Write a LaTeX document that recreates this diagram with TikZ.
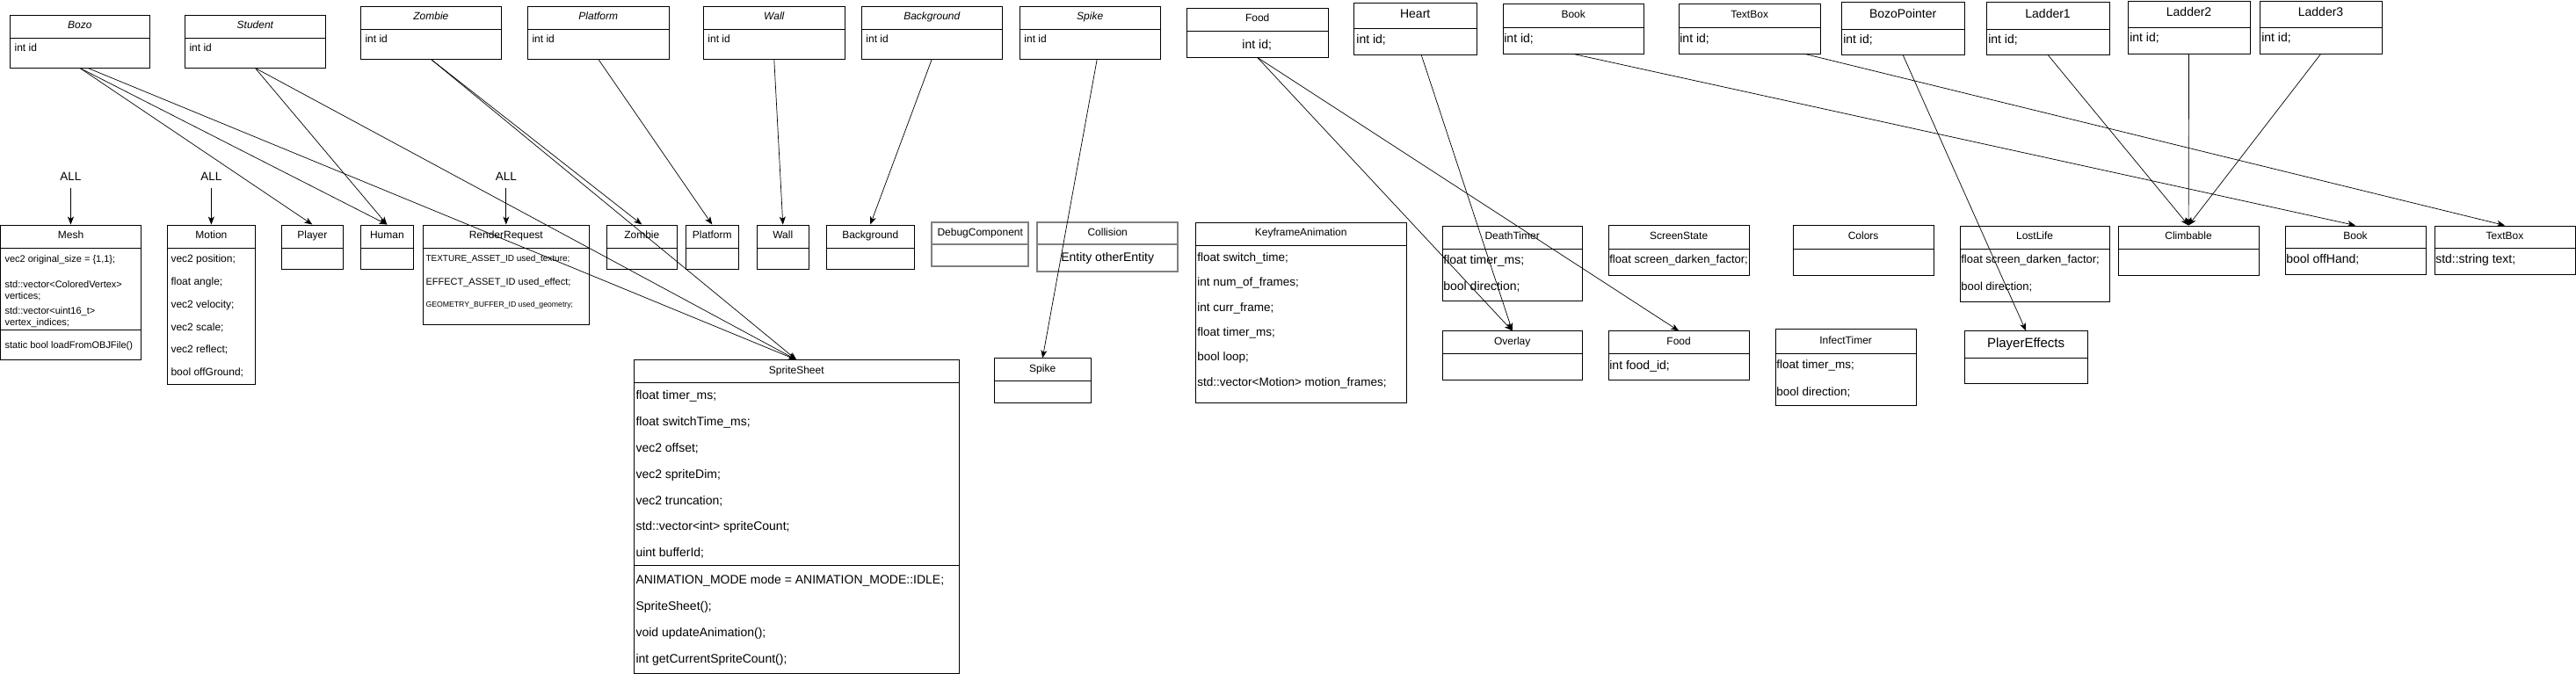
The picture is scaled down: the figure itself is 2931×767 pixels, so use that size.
\documentclass[tikz,border=0pt]{standalone}
\usepackage{fontspec}
\setmainfont{Liberation Sans}
\usetikzlibrary{arrows.meta}

\newcommand{\fs}[1]{\fontsize{#1}{#1}\selectfont}
% box with title part: [style]{name}{x1}{y1}{x2}{y2}{header line}{title}
\newcommand{\umlclass}[8][]{%
  \node[classbox,#1,minimum width={#5-#3},minimum height={#6-#4}] (#2) at ({(#3+#5)/2},{(#4+#6)/2}) {};
  \draw[classline,#1] (#2.west |- 0,#7) -- (#2.east |- 0,#7);
  \node[titletext] (#2-title) at ({(#3+#5)/2},{(#4+#7)/2}) {#8};
}

\begin{document}
\begin{tikzpicture}
[
x=1pt, y=-1pt,
classline/.style={line width=0.9pt},
classbox/.style={draw, rectangle, inner sep=0pt, classline},
greybox/.style={draw=gray, line width=1.6pt},
titletext/.style={anchor=mid, inner sep=0pt, font=\fs{12}},
attr/.style={anchor=mid west, inner sep=0pt, font=\fs{12}},
link/.style={-{Stealth[length=9pt,width=7pt,inset=2.5pt]}, line width=0.7pt}
]
\path[fill=white] (0,0) rectangle (2931,767);

% entities
\umlclass{bozoE}{11}{17}{170}{77}{43}{\itshape Bozo}
\umlclass{studentE}{210}{17}{370}{77}{43}{\itshape Student}
\umlclass{zombieE}{410}{7}{570}{67}{33}{\itshape Zombie}
\umlclass{platformE}{600}{7}{761}{67}{33}{\itshape Platform}
\umlclass{wallE}{800}{7}{961}{67}{33}{\itshape Wall}
\umlclass{backgroundE}{980}{7}{1140}{67}{33}{\itshape Background}
\umlclass{spikeE}{1160}{7}{1320}{67}{33}{\itshape Spike}
\umlclass{foodE}{1350}{9}{1511}{65}{35}{Food}
\umlclass{heartE}{1540}{3}{1680}{62}{32}{\fs{14}Heart}
\umlclass{bookE}{1710}{4}{1870}{61}{31}{Book}
\umlclass{textboxE}{1910}{4}{2071}{61}{31}{TextBox}
\umlclass{bozopointerE}{2095}{2}{2235}{62}{33}{\fs{14}BozoPointer}
\umlclass{ladderoneE}{2260}{2}{2400}{62}{33}{\fs{14}Ladder1}
\umlclass{laddertwoE}{2421}{1}{2560}{61}{31}{\fs{14}Ladder2}
\umlclass{ladderthreeE}{2571}{1}{2710}{61}{31}{\fs{14}Ladder3}

\node[attr] (bozoE-a) at (16,56) {int id};
\node[attr] (studentE-a) at (215,56) {int id};
\node[attr] (zombieE-a) at (415,46) {int id};
\node[attr] (platformE-a) at (605,46) {int id};
\node[attr] (wallE-a) at (805,46) {int id};
\node[attr] (backgroundE-a) at (985,46) {int id};
\node[attr] (spikeE-a) at (1165,46) {int id};
\node[titletext, font=\fs{14}] (foodE-a) at (1430,53) {int id;};
\node[attr, font=\fs{14}] (heartE-a) at (1543,47) {int id;};
\node[attr, font=\fs{14}] (bookE-a) at (1711,46) {int id;};
\node[attr, font=\fs{14}] (textboxE-a) at (1911,46) {int id;};
\node[attr, font=\fs{14}] (bozopointerE-a) at (2097,47) {int id;};
\node[attr, font=\fs{14}] (ladderoneE-a) at (2262,47) {int id;};
\node[attr, font=\fs{14}] (laddertwoE-a) at (2423,45) {int id;};
\node[attr, font=\fs{14}] (ladderthreeE-a) at (2573,45) {int id;};

% components
\umlclass{mesh}{0.5}{256}{160}{410}{282}{Mesh}
\draw[classline] (mesh.west |- 0,376) -- (mesh.east |- 0,376);
\node[attr, font=\fs{11}] (mesh-a1) at (5,296) {vec2 original\_size = \{1,1\};};
\node[attr, font=\fs{11}] (mesh-a2) at (5,325) {std::vector<ColoredVertex>};
\node[attr, font=\fs{11}] (mesh-a3) at (5,338) {vertices;};
\node[attr, font=\fs{11}] (mesh-a4) at (5,355) {std::vector<uint16\_t>};
\node[attr, font=\fs{11}] (mesh-a5) at (5,368) {vertex\_indices;};
\node[attr, font=\fs{11}] (mesh-m1) at (5,394) {static bool loadFromOBJFile()};

\umlclass{motion}{190}{256}{290}{438}{282}{Motion}
\node[attr] (motion-a1) at (194,296) {vec2 position;};
\node[attr] (motion-a2) at (194,322) {float angle;};
\node[attr] (motion-a3) at (194,348) {vec2 velocity;};
\node[attr] (motion-a4) at (194,374) {vec2 scale;};
\node[attr] (motion-a5) at (194,399) {vec2 reflect;};
\node[attr] (motion-a6) at (194,425) {bool offGround;};

\umlclass{player}{320}{256}{390}{306}{282}{Player}
\umlclass{human}{410}{256}{470}{306}{282}{Human}

\umlclass{renderreq}{481}{256}{670}{369}{282}{RenderRequest}
\node[attr, font=\fs{10}] (renderreq-a1) at (484,295) {TEXTURE\_ASSET\_ID used\_texture;};
\node[attr, font=\fs{11}] (renderreq-a2) at (484,322) {EFFECT\_ASSET\_ID used\_effect;};
\node[attr, font=\fs{8.7}] (renderreq-a3) at (484,347) {GEOMETRY\_BUFFER\_ID used\_geometry;};

\umlclass{zombie}{690}{256}{770}{306}{282}{Zombie}
\umlclass{platform}{780}{256}{840}{306}{282}{Platform}
\umlclass{wall}{861}{256}{920}{306}{282}{Wall}
\umlclass{background}{940}{256}{1040}{306}{282}{Background}
\umlclass[greybox]{debugcomp}{1060}{253}{1170}{303}{278}{DebugComponent}
\umlclass[greybox]{collision}{1180}{253}{1340}{309}{278}{Collision}
\node[titletext, font=\fs{14}] (collision-a) at (1260,295) {Entity otherEntity};

\umlclass{spritesheet}{721}{410}{1091}{766.5}{436}{SpriteSheet}
\draw[classline] (spritesheet.west |- 0,644) -- (spritesheet.east |- 0,644);
\node[attr, font=\fs{14}] (spritesheet-a1) at (723,452) {float timer\_ms;};
\node[attr, font=\fs{14}] (spritesheet-a2) at (723,482) {float switchTime\_ms;};
\node[attr, font=\fs{14}] (spritesheet-a3) at (723,512) {vec2 offset;};
\node[attr, font=\fs{14}] (spritesheet-a4) at (723,542) {vec2 spriteDim;};
\node[attr, font=\fs{14}] (spritesheet-a5) at (723,572) {vec2 truncation;};
\node[attr, font=\fs{14}] (spritesheet-a6) at (723,601) {std::vector<int> spriteCount;};
\node[attr, font=\fs{14}] (spritesheet-a7) at (723,631) {uint bufferId;};
\node[attr, font=\fs{14}] (spritesheet-m1) at (723,662) {ANIMATION\_MODE mode = ANIMATION\_MODE::IDLE;};
\node[attr, font=\fs{14}] (spritesheet-m2) at (723,692) {SpriteSheet();};
\node[attr, font=\fs{14}] (spritesheet-m3) at (723,722) {void updateAnimation();};
\node[attr, font=\fs{14}] (spritesheet-m4) at (723,752) {int getCurrentSpriteCount();};

\umlclass{spike}{1131}{408}{1241}{459}{434}{Spike}

\umlclass{keyframe}{1360}{253}{1600}{459}{279}{KeyframeAnimation}
\node[attr, font=\fs{13.5}] (keyframe-a1) at (1362,295) {float switch\_time;};
\node[attr, font=\fs{13.5}] (keyframe-a2) at (1362,323) {int num\_of\_frames;};
\node[attr, font=\fs{13.5}] (keyframe-a3) at (1362,352) {int curr\_frame;};
\node[attr, font=\fs{13.5}] (keyframe-a4) at (1362,380) {float timer\_ms;};
\node[attr, font=\fs{13.5}] (keyframe-a5) at (1362,408) {bool loop;};
\node[attr, font=\fs{13.5}] (keyframe-a6) at (1362,437) {std::vector<Motion> motion\_frames;};

\umlclass{deathtimer}{1641}{257}{1800}{342}{283}{DeathTimer}
\node[attr, font=\fs{14}] (deathtimer-a1) at (1642,298) {float timer\_ms;};
\node[attr, font=\fs{14}] (deathtimer-a2) at (1642,328) {bool direction;};
\umlclass{overlay}{1641}{377}{1800}{433}{403}{Overlay}

\umlclass{screenstate}{1830}{256}{1990}{313}{283}{ScreenState}
\node[attr, font=\fs{13}] (screenstate-a) at (1831,297) {float screen\_darken\_factor;};
\umlclass{food}{1830}{377}{1990}{433}{403}{Food}
\node[attr, font=\fs{14}] (food-a) at (1831,418) {int food\_id;};

\umlclass{colors}{2040}{256}{2200}{313}{283}{Colors}
\umlclass{infecttimer}{2020}{375}{2180}{462}{403}{InfectTimer}
\node[attr, font=\fs{13.5}] (infecttimer-a1) at (2021,417) {float timer\_ms;};
\node[attr, font=\fs{13.5}] (infecttimer-a2) at (2021,448) {bool direction;};

\umlclass{lostlife}{2230}{257}{2400}{343}{283}{LostLife}
\node[attr, font=\fs{13}] (lostlife-a1) at (2231,297) {float screen\_darken\_factor;};
\node[attr, font=\fs{13}] (lostlife-a2) at (2231,328) {bool direction;};
\umlclass{playereffects}{2235}{377}{2375}{437}{408}{\fs{15}PlayerEffects}

\umlclass{climbable}{2410}{257}{2570}{313}{283}{Climbable}
\umlclass{book}{2600}{257}{2760}{312}{282}{Book}
\node[attr, font=\fs{14}] (book-a) at (2601,297) {bool offHand;};
\umlclass{textbox}{2770}{257}{2930}{312}{282}{TextBox}
\node[attr, font=\fs{14}] (textbox-a) at (2771,297) {std::string text;};

% ALL labels
\node[titletext, font=\fs{13.5}] (allmesh) at (80,203) {ALL};
\node[titletext, font=\fs{13.5}] (allmotion) at (240,203) {ALL};
\node[titletext, font=\fs{13.5}] (allrender) at (575.5,203) {ALL};
\draw[link, shorten <=8pt] (allmesh) -- (mesh);
\draw[link, shorten <=8pt] (allmotion) -- (motion);
\draw[link, shorten <=8pt] (allrender) -- (renderreq);

% links
\draw[link] (bozoE.south) -- (player.north);
\draw[link] (bozoE.south) -- (human.north);
\draw[link] ([xshift=9pt]bozoE.south) -- (spritesheet.north);
\draw[link] (studentE.south) -- (human.north);
\draw[link] (studentE.south) -- (spritesheet.north);
\draw[link] (zombieE.south) -- (zombie.north);
\draw[link] (zombieE.south) -- (spritesheet.north);
\draw[link] (platformE.south) -- (platform.north);
\draw[link] (wallE.south) -- (wall.north);
\draw[link] (backgroundE.south) -- (background.north);
\draw[link] ([xshift=8pt]spikeE.south) -- (spike.north);
\draw[link] (foodE.south) -- (overlay.north);
\draw[link] (foodE.south) -- (food.north);
\draw[link] ([xshift=7pt]heartE.south) -- (overlay.north);
\draw[link] (bookE.south) -- (book.north);
\draw[link] ([xshift=63pt]textboxE.south) -- (textbox.north);
\draw[link] (bozopointerE.south) -- (playereffects.north);
\draw[link] (ladderoneE.south) -- (climbable.north);
\draw[link] (laddertwoE.south) -- (climbable.north);
\draw[link] (ladderthreeE.south) -- (climbable.north);
\end{tikzpicture}
\end{document}
